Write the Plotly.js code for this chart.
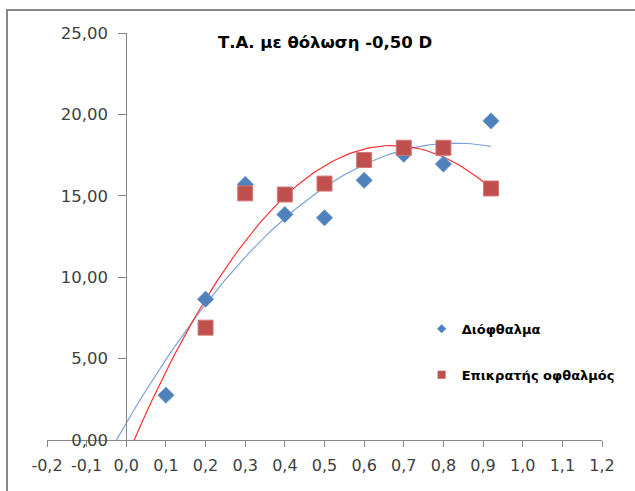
<!DOCTYPE html>
<html>
<head>
<meta charset="utf-8">
<script src="https://cdn.plot.ly/plotly-3.0.1.min.js"></script>
<style>
html,body{margin:0;padding:0;background:#fff;}
#frame{position:absolute;left:6px;top:9px;width:700px;height:600px;border-left:2px solid #878787;border-top:2px solid #878787;}
#chart{position:absolute;left:0;top:0;width:635px;height:491px;}
</style>
</head>
<body>
<div id="frame"></div>
<div id="chart"></div>
<script>
// Data
const seriesNames = ["Διόφθαλμα", "Επικρατής οφθαλμός"];
const binocX = [0.1, 0.2, 0.3, 0.4, 0.5, 0.6, 0.7, 0.8, 0.92];
const binocY = [2.75, 8.65, 15.7, 13.85, 13.65, 15.95, 17.55, 16.95, 19.6];
const domX = [0.2, 0.3, 0.4, 0.5, 0.6, 0.7, 0.8, 0.92];
const domY = [6.9, 15.15, 15.08, 15.75, 17.2, 17.95, 17.95, 15.45];
const xTickVals = [-0.2, -0.1, 0.0, 0.1, 0.2, 0.3, 0.4, 0.5, 0.6, 0.7, 0.8, 0.9, 1.0, 1.1, 1.2];
const xTickText = ["-0,2", "-0,1", "0,0", "0,1", "0,2", "0,3", "0,4", "0,5", "0,6", "0,7", "0,8", "0,9", "1,0", "1,1", "1,2"];
const yTickVals = [0, 5, 10, 15, 20, 25];
const yTickText = ["0,00", "5,00", "10,00", "15,00", "20,00", "25,00"];
const titleText = "Τ.Α. με θόλωση -0,50 D";

// Order-2 polynomial (least squares) trendline, as in the source chart
function polyFit2(xs, ys) {
  let s = [0,0,0,0,0], t = [0,0,0];
  for (let i = 0; i < xs.length; i++) {
    let p = 1;
    for (let k = 0; k < 5; k++) { s[k] += p; if (k < 3) t[k] += p * ys[i]; p *= xs[i]; }
  }
  const A = [[s[0], s[1], s[2], t[0]], [s[1], s[2], s[3], t[1]], [s[2], s[3], s[4], t[2]]];
  for (let c = 0; c < 3; c++) {
    for (let r = c + 1; r < 3; r++) {
      const f = A[r][c] / A[c][c];
      for (let k = c; k < 4; k++) A[r][k] -= f * A[c][k];
    }
  }
  const b = [0,0,0];
  for (let r = 2; r >= 0; r--) {
    let v = A[r][3];
    for (let k = r + 1; k < 3; k++) v -= A[r][k] * b[k];
    b[r] = v / A[r][r];
  }
  return b;
}
function trend(xs, ys, back) {
  const b = polyFit2(xs, ys);
  const x0 = Math.min(...xs) - back, x1 = Math.max(...xs);
  const tx = [], ty = [];
  for (let i = 0; i <= 100; i++) {
    const x = x0 + (x1 - x0) * i / 100;
    tx.push(x); ty.push(b[0] + b[1] * x + b[2] * x * x);
  }
  return {x: tx, y: ty};
}
const tb = trend(binocX, binocY, 0.2);
const td = trend(domX, domY, 0.2);

const blueFill = '#4F81BD', redFill = '#C0504D';
const data = [
  {x: tb.x, y: tb.y, mode: 'lines', line: {color: '#7aa2d8', width: 1.2}, showlegend: false, hoverinfo: 'skip'},
  {x: td.x, y: td.y, mode: 'lines', line: {color: '#ff3030', width: 1.2}, showlegend: false, hoverinfo: 'skip'},
  {x: binocX, y: binocY, mode: 'markers', name: seriesNames[0], showlegend: false,
   marker: {symbol: 'diamond', size: 12.5, color: blueFill, line: {width: 0.8, color: '#6d97cc'}}},
  {x: domX, y: domY, mode: 'markers', name: seriesNames[1], showlegend: false,
   marker: {symbol: 'square', size: 15, color: redFill, line: {width: 1, color: '#cf7a77'}}},
  // legend entries (small symbols as in the source legend)
  {x: [null], y: [null], mode: 'markers', name: seriesNames[0], legendgroup: 'a',
   marker: {symbol: 'diamond', size: 7, color: blueFill}},
  {x: [null], y: [null], mode: 'markers', name: seriesNames[1], legendgroup: 'b',
   marker: {symbol: 'square', size: 8, color: redFill}}
];

const font = "DejaVu Sans, sans-serif";
const layout = {
  width: 635, height: 491,
  margin: {l: 46.7, r: 32.7, t: 33, b: 50.5, pad: 0},
  paper_bgcolor: 'rgba(0,0,0,0)', plot_bgcolor: 'rgba(0,0,0,0)',
  separators: ', ',
  showlegend: true,
  title: {text: '<b>' + titleText + '</b>', font: {family: font, size: 16.5, color: '#000'}, x: 0.512, xanchor: 'center', y: 0.913, yanchor: 'middle'},
  xaxis: {range: [-0.2, 1.2], tickmode: 'array', tickvals: xTickVals, ticktext: xTickText,
    showgrid: false, zeroline: false, showline: true, linecolor: '#868686', linewidth: 1,
    ticks: 'outside', ticklen: 6, tickcolor: '#868686', ticklabelstandoff: 5,
    tickfont: {family: font, size: 16, color: '#404040'}, anchor: 'y', fixedrange: true},
  yaxis: {range: [0, 25], tickmode: 'array', tickvals: yTickVals, ticktext: yTickText,
    showgrid: false, zeroline: false, showline: true, linecolor: '#868686', linewidth: 1,
    ticks: 'outside', ticklen: 8, tickcolor: '#868686', ticklabelstandoff: 7,
    anchor: 'free', position: (0 - (-0.2)) / (1.2 - (-0.2)),
    tickfont: {family: font, size: 16.5, color: '#404040'}, fixedrange: true},
  legend: {x: 0.675, y: 0.31, xanchor: 'left', yanchor: 'top', bgcolor: 'rgba(0,0,0,0)',
    font: {family: font, size: 13, color: '#000', weight: 'bold'}, tracegroupgap: 26}
};
Plotly.newPlot('chart', data, layout, {staticPlot: true});
</script>
</body>
</html>
